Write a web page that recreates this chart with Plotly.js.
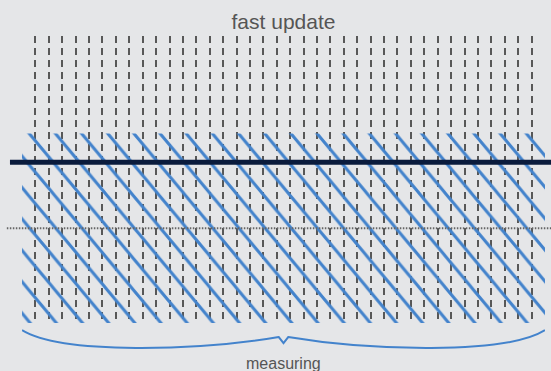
<!DOCTYPE html>
<html>
<head>
<meta charset="utf-8">
<script src="https://cdn.plot.ly/plotly-3.0.1.min.js"></script>
<style>html,body{margin:0;padding:0;background:#e5e6e8;}</style>
</head>
<body>
<div id="chart" style="width:551px;height:371px;"></div>
<script>
// ---- data ----
var slotCount = 40;                 // vertical dashed markers (x = 0 .. 39)
var measureStart = [0];
var measureEnd = [39];
var fillLevel = [0.66];             // height of the hatched region
var thickLineY = [0.56];            // dark reference line
var dottedLineY = [0.33];           // dotted reference line
var titleText = 'fast update';
var braceLabel = 'measuring';

// ---- styles ----
var bg = '#e5e6e8';
var blue = '#4383cc';
var gray = '#555555';
var font = 'Liberation Sans, Arial, Helvetica, sans-serif';
var hatchStretch = 1.2;             // steepness of the hatch lines
var hatchShift = 4.5;               // phase of the hatch, px

var x0 = measureStart[0], x1 = measureEnd[0];
var xc = (x0 + x1) / 2;
var span = x1 - x0;

var traces = [{
  type: 'bar',
  x: [xc],
  y: fillLevel,
  width: [span],
  marker: {
    color: 'rgba(0,0,0,0)',
    line: {width: 0},
    pattern: {shape: '\\', fgcolor: blue, bgcolor: 'rgba(0,0,0,0)', size: 18.5, solidity: 0.15, fillmode: 'replace'}
  },
  hoverinfo: 'skip',
  showlegend: false
}];

// brace below the plot (x in data units, y in paper units)
function bx(f) { return x0 + f * span; }
var brace = 'M' + bx(0) + ',-0.025' +
  ' C' + bx(0.075) + ',-0.112 ' + bx(0.342) + ',-0.095 ' + bx(0.491) + ',-0.049' +
  ' L' + bx(0.5) + ',-0.070' +
  ' L' + bx(0.509) + ',-0.049' +
  ' C' + bx(0.658) + ',-0.095 ' + bx(0.925) + ',-0.112 ' + bx(1) + ',-0.025';

var layout = {
  width: 551, height: 371,
  margin: {l: 22, r: 6, t: 36, b: 48, pad: 0},
  paper_bgcolor: bg,
  plot_bgcolor: bg,
  font: {family: font, color: gray},
  title: {text: titleText, font: {size: 21, color: gray, family: font}, x: 0.5, xref: 'paper', xanchor: 'center', y: 1 - 22/371, yanchor: 'middle'},
  showlegend: false,
  xaxis: {
    range: [x0, x1], tick0: 0, dtick: span / (slotCount - 1),
    showgrid: true, gridcolor: 'rgba(80,80,80,0.95)', gridwidth: 2, griddash: '7px,5px',
    showticklabels: false, ticks: '', zeroline: false, showline: false, fixedrange: true
  },
  yaxis: {
    range: [0, 1], showgrid: false, zeroline: false, showticklabels: false, ticks: '', showline: false, fixedrange: true
  },
  shapes: [
    {type: 'line', xref: 'paper', yref: 'y', x0: -0.023, x1: 1.03, y0: thickLineY[0], y1: thickLineY[0],
     line: {color: '#0a1b3c', width: 5}},
    {type: 'line', xref: 'paper', yref: 'y', x0: -0.029, x1: 1.03, y0: dottedLineY[0], y1: dottedLineY[0],
     line: {color: '#666666', width: 2, dash: '1.5px,1.5px'}},
    {type: 'path', xref: 'x', yref: 'paper', path: brace, line: {color: blue, width: 2}}
  ],
  annotations: [
    {text: braceLabel, xref: 'x', yref: 'paper', x: xc, y: -0.14, showarrow: false,
     xanchor: 'center', yanchor: 'middle', font: {size: 16, color: gray, family: font}}
  ]
};

Plotly.newPlot('chart', traces, layout, {displayModeBar: false, staticPlot: true}).then(function () {
  var pats = document.querySelectorAll('#chart pattern');
  for (var i = 0; i < pats.length; i++) {
    pats[i].setAttribute('patternTransform', 'translate(' + hatchShift + ',0) scale(1,' + hatchStretch + ')');
  }
});
</script>
</body>
</html>
